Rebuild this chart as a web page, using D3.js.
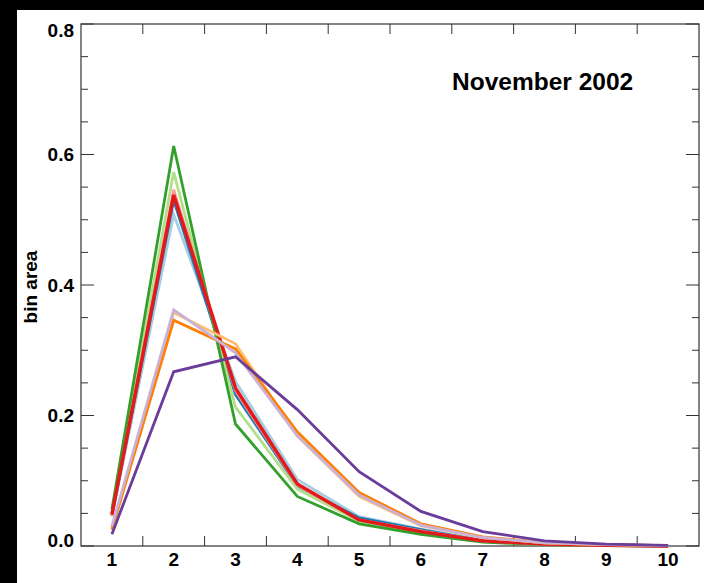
<!DOCTYPE html>
<html>
<head>
<meta charset="utf-8">
<script src="https://cdn.jsdelivr.net/npm/d3@7"></script>
<style>
  html, body { margin: 0; padding: 0; background: #000; }
  svg { display: block; }
  text { font-family: "Liberation Sans", Arial, Helvetica, sans-serif; font-weight: bold; fill: #000; }
</style>
</head>
<body>
<svg id="chart" width="704" height="583"></svg>
<script>
// ---- data ----
const bins = [1, 2, 3, 4, 5, 6, 7, 8, 9, 10]
const xTickLabels = ["1", "2", "3", "4", "5", "6", "7", "8", "9", "10"]
const yTickLabels = ["0.0", "0.2", "0.4", "0.6", "0.8"]
const title = "November 2002"

const seriesColors = ["#a6cee3", "#1f78b4", "#b2df8a", "#33a02c", "#fb9a99",
                      "#e31a1c", "#fdbf6f", "#ff7f00", "#cab2d6", "#6a3d9a"]

const lightBlue   = [0.045, 0.508, 0.252, 0.102, 0.045, 0.026, 0.009, 0.003, 0.001, 0.000]
const blue        = [0.047, 0.530, 0.232, 0.092, 0.043, 0.025, 0.008, 0.003, 0.001, 0.000]
const lightGreen  = [0.050, 0.573, 0.213, 0.087, 0.038, 0.021, 0.007, 0.002, 0.001, 0.000]
const green       = [0.056, 0.613, 0.187, 0.076, 0.034, 0.018, 0.006, 0.002, 0.0005, 0.000]
const pink        = [0.046, 0.546, 0.238, 0.093, 0.040, 0.023, 0.008, 0.003, 0.001, 0.000]
const red         = [0.048, 0.538, 0.242, 0.095, 0.040, 0.022, 0.008, 0.003, 0.001, 0.000]
const lightOrange = [0.028, 0.358, 0.310, 0.169, 0.076, 0.031, 0.013, 0.005, 0.002, 0.0005]
const orange      = [0.025, 0.346, 0.302, 0.175, 0.082, 0.034, 0.014, 0.005, 0.002, 0.0005]
const lavender    = [0.030, 0.362, 0.296, 0.169, 0.078, 0.032, 0.013, 0.005, 0.002, 0.0005]
const purple      = [0.018, 0.267, 0.290, 0.209, 0.114, 0.053, 0.022, 0.008, 0.003, 0.001]

const allSeries = [lightBlue, blue, lightGreen, green, pink, red, lightOrange, orange, lavender, purple]

// ---- layout ----
const margin = { top: 24, right: 5, bottom: 37, left: 81 }
const W = 704, H = 583
const width = W - margin.left - margin.right
const height = H - margin.top - margin.bottom

const svg = d3.select("#chart")

// white page area on black background
svg.append("rect")
    .attr("x", 17).attr("y", 10)
    .attr("width", W - 17).attr("height", H - 10)
    .attr("fill", "#fff")

const g = svg.append("g")
    .attr("transform", `translate(${margin.left},${margin.top})`)

const x = d3.scaleLinear().domain([0.5, 10.5]).range([0, width])
const y = d3.scaleLinear().domain([0, 0.8]).range([height, 0])

const axisColor = "#333"

// frame
g.append("rect")
    .attr("x", 0).attr("y", 0)
    .attr("width", width).attr("height", height)
    .attr("fill", "none")
    .attr("stroke", axisColor)
    .attr("stroke-width", 1.2)

// x ticks at half-integers, bottom and top, pointing inward
const xTicks = d3.range(1.5, 10, 1)
const xt = g.append("g").attr("class", "x-ticks")
xt.selectAll("line.b").data(xTicks).enter().append("line")
    .attr("x1", d => x(d)).attr("x2", d => x(d))
    .attr("y1", height).attr("y2", height - 10)
    .attr("stroke", axisColor).attr("stroke-width", 1)
xt.selectAll("line.t").data(xTicks).enter().append("line")
    .attr("x1", d => x(d)).attr("x2", d => x(d))
    .attr("y1", 0).attr("y2", 10)
    .attr("stroke", axisColor).attr("stroke-width", 1)

// x labels at integers
g.append("g").selectAll("text")
    .data(bins)
    .enter().append("text")
    .attr("x", d => x(d))
    .attr("y", height + 20)
    .attr("text-anchor", "middle")
    .attr("font-size", "19px")
    .text((d, i) => xTickLabels[i])

// y ticks: majors every 0.2, minors every 0.05, both sides
const yMinor = d3.range(0, 0.8001, 0.05)
const yt = g.append("g").attr("class", "y-ticks")
yMinor.forEach(v => {
    const major = Math.abs(v / 0.2 - Math.round(v / 0.2)) < 1e-6
    const len = major ? 13 : 7
    yt.append("line")
        .attr("x1", 0).attr("x2", len)
        .attr("y1", y(v)).attr("y2", y(v))
        .attr("stroke", axisColor).attr("stroke-width", 1)
    yt.append("line")
        .attr("x1", width).attr("x2", width - len)
        .attr("y1", y(v)).attr("y2", y(v))
        .attr("stroke", axisColor).attr("stroke-width", 1)
})

// y labels (end labels kept inside the frame's height)
const yMajor = [0, 0.2, 0.4, 0.6, 0.8]
g.append("g").selectAll("text")
    .data(yMajor)
    .enter().append("text")
    .attr("x", -7)
    .attr("y", d => Math.min(height - 6, Math.max(6, y(d))))
    .attr("dy", "0.35em")
    .attr("text-anchor", "end")
    .attr("font-size", "19px")
    .text((d, i) => yTickLabels[i])

// y axis title
svg.append("text")
    .attr("transform", `translate(37,${margin.top + height / 2 + 2}) rotate(-90)`)
    .attr("text-anchor", "middle")
    .attr("font-size", "19px")
    .text("bin area")

// title
svg.append("text")
    .attr("x", 452)
    .attr("y", 90)
    .attr("font-size", "24.5px")
    .text(title)

// lines
const line = d3.line()
    .x((d, i) => x(bins[i]))
    .y(d => y(d))

g.append("g").attr("class", "lines")
    .selectAll("path")
    .data(allSeries)
    .enter().append("path")
    .attr("d", d => line(d))
    .attr("fill", "none")
    .attr("stroke", (d, i) => seriesColors[i])
    .attr("stroke-width", (d, i) => i === 5 ? 3.5 : 2.8)
    .attr("stroke-linejoin", "miter")
</script>
</body>
</html>
